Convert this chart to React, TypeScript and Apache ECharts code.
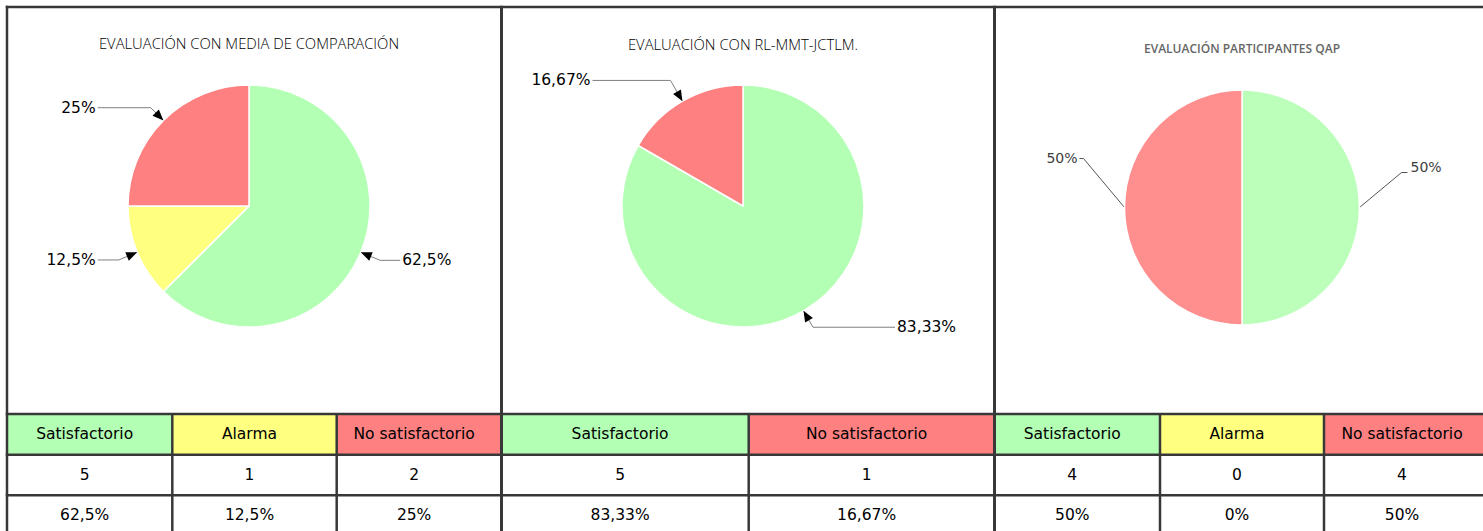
import React, { useEffect, useRef } from "react";
import * as echarts from "echarts";

// ---------------- data ----------------
const PANEL_TITLES = [
  "EVALUACIÓN CON MEDIA DE COMPARACIÓN",
  "EVALUACIÓN CON RL-MMT-JCTLM.",
  "EVALUACIÓN PARTICIPANTES QAP",
];

const P1_CATEGORIES = ["Satisfactorio", "Alarma", "No satisfactorio"];
const P1_COUNTS = [5, 1, 2];
const P1_PERCENTS = ["62,5%", "12,5%", "25%"];

const P2_CATEGORIES = ["Satisfactorio", "No satisfactorio"];
const P2_COUNTS = [5, 1];
const P2_PERCENTS = ["83,33%", "16,67%"];

const P3_CATEGORIES = ["Satisfactorio", "Alarma", "No satisfactorio"];
const P3_COUNTS = [4, 0, 4];
const P3_PERCENTS = ["50%", "0%", "50%"];

// ---------------- styles / layout ----------------
const STD_COLORS: Record<string, string> = {
  Satisfactorio: "#B3FFB3",
  Alarma: "#FFFF80",
  "No satisfactorio": "#FF8080",
};
const QAP_COLORS: Record<string, string> = {
  Satisfactorio: "#BBFFBB",
  Alarma: "#FFFF80",
  "No satisfactorio": "#FF8F8F",
};

const PANELS = [
  { title: PANEL_TITLES[0], cats: P1_CATEGORIES, counts: P1_COUNTS, pcts: P1_PERCENTS },
  { title: PANEL_TITLES[1], cats: P2_CATEGORIES, counts: P2_COUNTS, pcts: P2_PERCENTS },
  { title: PANEL_TITLES[2], cats: P3_CATEGORIES, counts: P3_COUNTS, pcts: P3_PERCENTS },
];

const PIE_GEOM = [
  { cx: 249, cy: 206, r: 121 },
  { cx: 743, cy: 206, r: 121 },
  { cx: 1242, cy: 207.5, r: 117.5 },
];
const PIE_COLORS = [STD_COLORS, STD_COLORS, QAP_COLORS];
const PIE_ARROWS = [true, true, false];
const PIE_LABEL_STYLE = [
  { fontFamily: "DejaVu Sans", fontSize: 15.5, color: "#000" },
  { fontFamily: "DejaVu Sans", fontSize: 15.5, color: "#000" },
  { fontFamily: "DejaVu Sans", fontSize: 14, color: "#404040" },
];
const LEADER_COLOR = ["#808080", "#808080", "#555555"];
type Leader = { radial?: number; dx?: number; dy?: number; len2: number; gap: number; textDy?: number };
const LEADERS: Leader[][] = [
  [
    { radial: 21, len2: 20, gap: 2 },
    { radial: 20, len2: 21, gap: 2 },
    { radial: 18, len2: 53, gap: 2 },
  ],
  [
    { radial: 19, len2: 82, gap: 2 },
    { radial: 24, len2: 78, gap: 2 },
  ],
  [
    { dx: 42, dy: -35, len2: 6, gap: 3, textDy: -6 },
    { dx: -41, dy: -49, len2: 4, gap: 2, textDy: -1 },
  ],
];

const TITLE_STYLE = [
  { fontFamily: "Open Sans", fontWeight: 300, fontSize: 14.8, color: "#000", top: 35.5 },
  { fontFamily: "Open Sans", fontWeight: 300, fontSize: 14.8, color: "#000", top: 36.5 },
  { fontFamily: "Open Sans", fontWeight: 600, fontSize: 12, color: "#666666", top: 42.5 },
];

// table layout
const COL_EDGES = [7, 172.3, 336.7, 501.5, 748.7, 994.5, 1160, 1324, 1490];
const PANEL_EDGES = [7, 501.5, 994.5];
const ROW_LINES = [414, 454.7, 495.3];
const ROW_CENTERS = [434, 475, 515];
const LINE_COLOR = "#383838";
const TEXT_SHIFT = -5;
const TABLE_FONT = { fontFamily: "DejaVu Sans", fontSize: 15.5 };

function fmtPct(p: number) {
  return String(p).replace(".", ",") + "%";
}

function buildOption() {
  const series: any[] = [];
  const graphic: any[] = [];

  PANELS.forEach((panel, pi) => {
    const g = PIE_GEOM[pi];
    const colors = PIE_COLORS[pi];
    const data = panel.cats
      .map((c, i) => ({ name: c, value: panel.counts[i], itemStyle: { color: colors[c] } }))
      .filter((d) => d.value > 0);
    const leaders = LEADERS[pi];
    series.push({
      type: "pie",
      center: [g.cx, g.cy],
      radius: g.r,
      startAngle: 90,
      clockwise: true,
      silent: true,
      avoidLabelOverlap: false,
      itemStyle: { borderColor: "#ffffff", borderWidth: 1.5 },
      label: {
        show: true,
        position: "outside",
        formatter: (p: any) => fmtPct(p.percent),
        ...PIE_LABEL_STYLE[pi],
      },
      labelLine: {
        show: true,
        length: 15,
        length2: 15,
        lineStyle: { color: LEADER_COLOR[pi], width: 1 },
      },
      labelLayout: (params: any) => {
        const L = leaders[params.dataIndex];
        const pts = params.labelLinePoints;
        if (!L || !pts) return {};
        const p0 = pts[0];
        let p1: number[];
        if (L.radial != null) {
          const vx = pts[1][0] - p0[0];
          const vy = pts[1][1] - p0[1];
          const n = Math.hypot(vx, vy) || 1;
          p1 = [p0[0] + (vx / n) * L.radial, p0[1] + (vy / n) * L.radial];
        } else {
          p1 = [p0[0] + (L.dx || 0), p0[1] + (L.dy || 0)];
        }
        const side = p1[0] >= g.cx ? 1 : -1;
        const p2 = [p1[0] + side * L.len2, p1[1]];
        return {
          x: p2[0] + side * L.gap,
          y: p2[1] + (L.textDy || 0),
          align: side > 0 ? "left" : "right",
          verticalAlign: "middle",
          labelLinePoints: [p0, p1, p2],
        };
      },
      data,
    });

    // arrow heads computed from pie geometry
    if (PIE_ARROWS[pi]) {
      const total = data.reduce((s, d) => s + d.value, 0);
      let cum = 0;
      data.forEach((d) => {
        const mid = (cum + d.value / 2) / total;
        cum += d.value;
        const ang = Math.PI / 2 - mid * 2 * Math.PI;
        const ux = Math.cos(ang);
        const uy = -Math.sin(ang);
        const tip = [g.cx + g.r * ux, g.cy + g.r * uy];
        const base = [tip[0] + ux * 11, tip[1] + uy * 11];
        const px = -uy;
        const py = ux;
        graphic.push({
          type: "polygon",
          z: 100,
          silent: true,
          shape: {
            points: [tip, [base[0] + px * 4.5, base[1] + py * 4.5], [base[0] - px * 4.5, base[1] - py * 4.5]],
          },
          style: { fill: "#000" },
        });
      });
    }
  });

  // table: header fills and texts
  let col = 0;
  PANELS.forEach((panel) => {
    panel.cats.forEach((c, i) => {
      const x0 = COL_EDGES[col];
      const x1 = COL_EDGES[col + 1];
      graphic.push({
        type: "rect",
        z: 1,
        silent: true,
        shape: { x: x0, y: ROW_LINES[0], width: x1 - x0, height: ROW_LINES[1] - ROW_LINES[0] },
        style: { fill: STD_COLORS[c] },
      });
      const cx = (x0 + x1) / 2 + TEXT_SHIFT;
      const texts = [c, String(panel.counts[i]), panel.pcts[i]];
      texts.forEach((t, r) => {
        graphic.push({
          type: "text",
          z: 5,
          silent: true,
          x: cx,
          y: ROW_CENTERS[r],
          style: {
            text: t,
            fill: "#000",
            ...TABLE_FONT,
            textAlign: "center",
            textVerticalAlign: "middle",
          },
        });
      });
      col++;
    });
  });

  // grid lines
  const lw = 2.5;
  graphic.push({
    type: "rect", z: 3, silent: true,
    shape: { x: 7 - lw / 2, y: 7 - lw / 2, width: 1483, height: lw },
    style: { fill: LINE_COLOR },
  });
  ROW_LINES.forEach((y) => {
    graphic.push({
      type: "rect", z: 3, silent: true,
      shape: { x: 7 - lw / 2, y: y - lw / 2, width: 1483, height: lw },
      style: { fill: LINE_COLOR },
    });
  });
  PANEL_EDGES.forEach((x, i) => {
    const w = i === 0 ? 2.5 : 3;
    graphic.push({
      type: "rect", z: 3, silent: true,
      shape: { x: x - w / 2, y: 7 - lw / 2, width: w, height: 540 },
      style: { fill: LINE_COLOR },
    });
  });
  COL_EDGES.forEach((x) => {
    if (PANEL_EDGES.includes(x)) return;
    graphic.push({
      type: "rect", z: 3, silent: true,
      shape: { x: x - 1.25, y: ROW_LINES[0], width: 2.5, height: 140 },
      style: { fill: LINE_COLOR },
    });
  });

  const title = PANELS.map((p, i) => ({
    text: p.title,
    left: PIE_GEOM[i].cx,
    top: TITLE_STYLE[i].top,
    textAlign: "center",
    padding: 0,
    textStyle: {
      fontFamily: TITLE_STYLE[i].fontFamily,
      fontWeight: TITLE_STYLE[i].fontWeight,
      fontSize: TITLE_STYLE[i].fontSize,
      color: TITLE_STYLE[i].color,
    },
  }));

  return {
    animation: false,
    backgroundColor: "#ffffff",
    title,
    series,
    graphic,
  };
}

export default function App() {
  const ref = useRef<HTMLDivElement>(null);
  useEffect(() => {
    if (!ref.current) return;
    const chart = echarts.init(ref.current, null, { renderer: "svg" });
    chart.setOption(buildOption() as any);
    return () => chart.dispose();
  }, []);
  return (
    <div
      ref={ref}
      style={{ position: "fixed", left: 0, top: 0, width: 1483, height: 531, background: "#fff" }}
    />
  );
}
